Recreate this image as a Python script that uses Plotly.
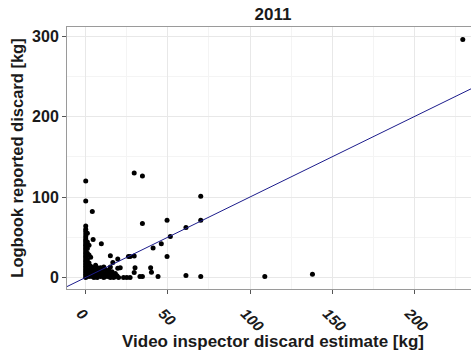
import plotly.graph_objects as go

# ---- data ----
video_x = [
    229.5, 0, 0, 4, 29.5, 34.5, 70, 34.5, 49.5, 70, 61, 51.5, 46, 41, 29.5, 49.5,
    30, 39.5, 40, 29.5, 33, 34.5, 44, 61, 70, 109, 138,
    4.5, 9.5, 15, 21, 27, 19.5, 16.5, 19.5, 26,
    0, 0, 0, 0, 0, 0, 0, 0, 0, 0, 0, 0, 0, 0, 0, 0, 0, 0, 0, 0, 0, 0, 0, 0, 0, 0, 0, 0, 0, 0,
    1, 1, 1, 1, 1, 1, 1, 1,
    2, 2, 2, 2, 2, 2,
    3, 3, 3, 3,
    4, 4, 4,
    5, 5, 5,
    6, 6, 6,
    7, 7, 7,
    8, 8,
    9, 9, 9,
    10, 10,
    11, 11, 11,
    12, 12,
    13, 13,
    14, 14,
    15, 15, 15,
    16, 16,
    17, 17,
    18, 18,
    19, 20, 23, 25, 27,
]
logbook_y = [
    296, 120, 95, 82, 130, 126, 101, 67, 71, 71, 62, 51, 42, 36.5, 26.5, 26,
    12, 12, 6.5, 6, 1, 1, 1, 2.5, 1, 1, 4,
    47, 42, 27, 12, 26, 23, 18.5, 11.5, 26,
    64, 60, 57, 54, 51, 48, 46, 44, 42, 40, 38, 36, 34, 32, 30, 28, 26, 24, 22, 20, 18, 16, 14, 12, 10, 8, 6, 4, 2, 0,
    55, 44, 36, 30, 22, 15, 8, 3,
    40, 28, 18, 10, 5, 1,
    25, 14, 7, 2,
    12, 6, 1,
    10, 4, 0,
    15, 8, 2,
    12, 5, 0,
    9, 3,
    12, 6, 1,
    8, 2,
    13, 5, 0,
    10, 3,
    6, 1,
    9, 2,
    13, 4, 0,
    7, 1,
    3, 0,
    5, 1,
    2, 0, 0, 0, 0,
]

x_range = [-11.4, 234.5]
y_range = [-14.4, 311.4]
x_ticks = [0, 50, 100, 150, 200]
y_ticks = [0, 100, 200, 300]

x_title = "Video inspector discard estimate [kg]"
y_title = "Logbook reported discard [kg]"
chart_title = "2011"

# 1:1 reference line (y = x) spanning the visible axis range
line_x = [x_range[0], x_range[1]]
line_y = [x_range[0], x_range[1]]

fig = go.Figure()
fig.add_trace(go.Scatter(
    x=video_x, y=logbook_y, mode="markers",
    marker=dict(color="black", size=5, line=dict(width=0)),
    showlegend=False, cliponaxis=True,
))
fig.add_trace(go.Scatter(
    x=line_x, y=line_y, mode="lines",
    line=dict(color="#1c1c8c", width=1),
    showlegend=False,
))

axis_common = dict(
    showline=True, linecolor="#9a9a9a", linewidth=1, mirror=True,
    ticks="outside", ticklen=4, tickcolor="#555555", tickwidth=1,
    showgrid=True, gridcolor="#e8e8e8", gridwidth=1,
    zeroline=False,
)

fig.update_layout(
    width=471, height=354,
    margin=dict(l=67, r=0, t=27, b=65),
    paper_bgcolor="white", plot_bgcolor="white",
    font=dict(family="Liberation Sans, Arial, sans-serif", color="#1a1a1a"),
    title=dict(text="<b>" + chart_title + "</b>", x=0.51, xref="paper", xanchor="center",
               y=0.96, yref="container", yanchor="middle",
               font=dict(size=17, color="#1a1a1a")),
    xaxis=dict(
        range=x_range, tickvals=x_ticks, ticktext=[str(v) for v in x_ticks],
        tickangle=45, ticklabelstandoff=5, ticklabelshift=-5,
        tickfont=dict(size=15, weight="bold", style="italic", color="#1a1a1a"),
        minor=dict(showgrid=True, dtick=25, tick0=0, gridcolor="#f4f4f4", gridwidth=1),
        **axis_common,
    ),
    yaxis=dict(
        range=y_range, tickvals=y_ticks, ticktext=[str(v) for v in y_ticks],
        tickfont=dict(size=16, weight="bold", color="#1a1a1a"),
        title=dict(text=y_title,
                   font=dict(size=16.5, weight="bold", color="#1a1a1a"), standoff=4),
        minor=dict(showgrid=True, dtick=50, tick0=0, gridcolor="#f4f4f4", gridwidth=1),
        **axis_common,
    ),
    annotations=[dict(
        text="<b>" + x_title + "</b>", xref="paper", yref="paper",
        x=0.51, y=-0.2, xanchor="center", yanchor="middle", showarrow=False,
        font=dict(size=17, color="#1a1a1a"),
    )],
)

fig.write_html("out.html")
